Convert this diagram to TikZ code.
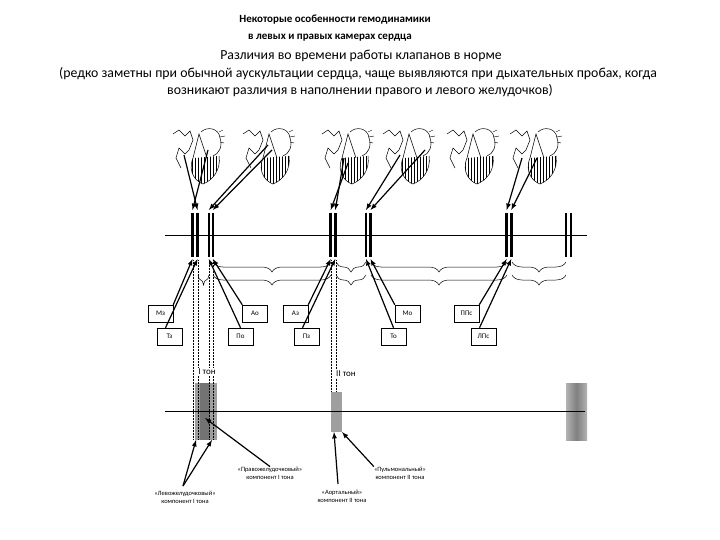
\documentclass[tikz,border=0pt]{standalone}
\usepackage{fontspec}
\setmainfont{Carlito}
\usetikzlibrary{patterns,decorations.pathreplacing}
\begin{document}
\begin{tikzpicture}[x=1pt,y=-1pt,
  bar/.style={line width=2.6pt},
  arr/.style={-latex,line width=1.2pt},
  lbl/.style={draw,line width=0.5pt,minimum width=25pt,minimum height=17pt,inner sep=0pt,font=\fontsize{7}{8}\selectfont},
  small/.style={font=\fontsize{6.5}{8}\selectfont,align=center,inner sep=0pt},
  brc/.style={decorate,decoration={brace,mirror,amplitude=10pt,aspect=0.5},line width=0.5pt},
  dot/.style={densely dotted,line width=0.5pt}]
\useasboundingbox (0,0) rectangle (720,540);
% titles
\node[font=\bfseries\fontsize{11}{12}\selectfont] (t1) at (335,20) {Некоторые особенности гемодинамики};
\node[font=\bfseries\fontsize{11}{12}\selectfont] (t2) at (330,38) {в левых и правых камерах сердца};
\node[font=\fontsize{13.8}{14}\selectfont] (t3) at (361,56) {Различия во времени работы клапанов в норме};
\node[font=\fontsize{13.8}{14}\selectfont] (t4) at (358,74) {(редко заметны при обычной аускультации сердца, чаще выявляются при дыхательных пробах, когда};
\node[font=\fontsize{13.8}{14}\selectfont] (t5) at (360,91) {возникают различия в наполнении правого и левого желудочков)};
% hearts
\foreach \hx in {173,243,322,383,447,510}{
  \begin{scope}[shift={(\hx,128)}]
  \fill[pattern=vertical lines] (20,30) .. controls (14,45) and (24,54) .. (30,56) .. controls (40,52) and (48,42) .. (46,28) -- cycle;
  \draw[line width=0.5pt] (0,6) -- (6,2) -- (12,8) -- (17,3) -- (20,12) -- (16,22) -- (12,26) -- (6,20) -- (3,30) -- (8,40);
  \draw[line width=0.5pt] (20,30) -- (26,6) -- (34,30);
  \draw[line width=0.5pt] (28,4) .. controls (34,-2) and (46,0) .. (47,10) .. controls (50,18) and (46,26) .. (40,28);
  \draw[line width=0.5pt] (20,30) .. controls (14,45) and (24,54) .. (30,56) .. controls (40,52) and (48,42) .. (46,28);
  \draw[line width=0.4pt] (46,4) -- (50,2) (47,9) -- (52,8) (47,14) -- (51,15);
  \end{scope}}
% main line and bars
\coordinate (L1a) at (165,235); \coordinate (L1b) at (587,235);
\draw[line width=0.7pt] (L1a) -- (L1b);
\foreach \bx [count=\i] in {192.5,197.5,208.8,212.8,330.7,335.3,366,370.5,506.7,511.3,566,571}{
  \coordinate (bt\i) at (\bx,210); \coordinate (bb\i) at (\bx,259);
  \draw[bar] (\bx,213) -- (\bx,257);}
% arrows from hearts
\coordinate (h1a) at (184,155); \coordinate (h1b) at (208,150);
\coordinate (h2a) at (268,145); \coordinate (h2b) at (272,150);
\coordinate (h3a) at (348,163); \coordinate (h3b) at (344,158);
\coordinate (h4a) at (400,155); \coordinate (h4b) at (425,150);
\coordinate (h6a) at (522,158); \coordinate (h6b) at (537,158);
\draw[arr] (h1a) -- (bt2); \draw[arr] (h1b) -- (bt1);
\draw[arr] (h2a) -- (bt3); \draw[arr] (h2b) -- (bt4);
\draw[arr] (h3a) -- (bt5); \draw[arr] (h3b) -- (bt6);
\draw[arr] (h4a) -- (bt7); \draw[arr] (h4b) -- (bt8);
\draw[arr] (h6a) -- (bt9); \draw[arr] (h6b) -- (bt10);
% braces
\draw[brc] (213,262) -- (331,262);
\draw[brc] (336,262) -- (366,262);
\draw[brc] (371,262) -- (507,262);
\draw[brc] (512,262) -- (566,262);
\draw[brc] (198,275) -- (209,275);
\draw[brc] (213,275) -- (331,275);
\draw[brc] (336,275) -- (366,275);
\draw[brc] (371,275) -- (507,275);
\draw[brc] (512,275) -- (566,275);
% dotted verticals
\foreach \dx in {193,198,209,213}{\draw[dot] (\dx,260) -- (\dx,440);}
\foreach \dx in {331,336}{\draw[dot] (\dx,260) -- (\dx,410);}
% boxes
\node[lbl] (mz) at (160.5,313.5) {Мз};
\node[lbl] (tz) at (169.5,336.5) {Тз};
\node[lbl] (ao) at (255,313.5) {Ао};
\node[lbl] (po) at (240.5,336.5) {По};
\node[lbl] (az) at (295.5,313.5) {Аз};
\node[lbl] (pz) at (306.5,336.5) {Пз};
\node[lbl] (mo) at (407.5,313.5) {Мо};
\node[lbl] (to) at (393.5,336.5) {То};
\node[lbl] (pps) at (466.5,313.5) {ППс};
\node[lbl] (lps) at (483.5,336.5) {ЛПс};
\draw[arr] (mz.north east) -- (bb1);
\draw[arr] ([xshift=-4pt]tz.north) -- (bb2);
\draw[arr] (po.north) -- (bb3);
\draw[arr] (ao.north west) -- (bb4);
\draw[arr] (az.north east) -- (bb5);
\draw[arr] ([xshift=-4pt]pz.north) -- (bb6);
\draw[arr] (to.north) -- (bb7);
\draw[arr] (mo.north west) -- (bb8);
\draw[arr] (pps.north east) -- (bb9);
\draw[arr] ([xshift=-4pt]lps.north) -- (bb10);
% tone labels
\node[font=\fontsize{9}{10}\selectfont,fill=white,inner sep=1pt] (ton1) at (207,372) {I тон};
\node[font=\fontsize{9}{10}\selectfont,fill=white,inner sep=1pt] (ton2) at (346,374) {II тон};
% lower part
\fill[gray!75] (195,383) rectangle (217,440);
\fill[gray!90!black] (200,383) rectangle (210,440);
\fill[gray!75] (331,392) rectangle (342,432);
\shade[left color=gray!60,right color=gray!60,middle color=gray!100!black] (566,383) rectangle (587,440);
\foreach \dx in {193,198,209,213}{\draw[dot] (\dx,383) -- (\dx,440);}
\draw[line width=0.7pt] (165,411) -- (585,411);
\coordinate (c1a) at (196,440); \coordinate (c1b) at (212,440);
\coordinate (c2) at (205,418); \coordinate (c3) at (334,432); \coordinate (c4) at (342,432);
\node[small] (pr) at (270,473) {«Правожелудочковый»\\компонент I тона};
\node[small] (lv) at (185,497) {«Левожелудочковый»\\компонент I тона};
\node[small] (ar) at (342,496) {«Аортальный»\\компонент II тона};
\node[small] (pu) at (400,473) {«Пульмональный»\\компонент II тона};
\coordinate (lvt) at (183,486);
\draw[arr] (lvt) -- (c1a); \draw[arr] (lvt) -- (c1b);
\draw[arr] (pr.north) -- (c2);
\draw[arr] (338,484) -- (c3);
\draw[arr] (pu.north west) -- (c4);
\end{tikzpicture}
\end{document}
